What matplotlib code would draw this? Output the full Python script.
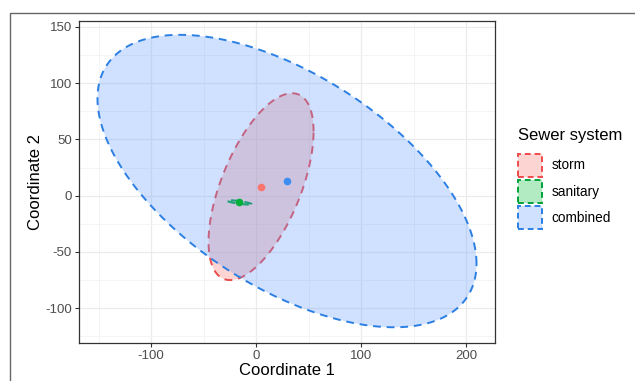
import numpy as np
import matplotlib.pyplot as plt
from matplotlib.patches import Polygon, Patch, Rectangle

plt.rcParams['font.family'] = ['Liberation Sans', 'DejaVu Sans']
plt.rcParams['axes.unicode_minus'] = False

# groups and ellipse parameters (centre + covariance-like spread)
groups = ['storm', 'sanitary', 'combined']
cx = [4.8, -16, 29.5]
cy = [8.0, -6.0, 13.0]
sxx = [2500, 144, 32580]
syy = [6900, 4, 16900]
sxy = [2450, -19, -13260]
fills = ['#F8766D', '#00BA38', '#619CFF']
edges = ['#EE4B4B', '#00A33A', '#2B7FE3']
dots = ['#F8766D', '#00B03A', '#3D8EF0']

xticks = [-100, 0, 100, 200]
yticks = [-100, -50, 0, 50, 100, 150]

fig = plt.figure(figsize=(6.35, 3.81), dpi=100)
ax = fig.add_axes([0.1244, 0.0997, 0.6551, 0.8452])

t = np.linspace(0, 2 * np.pi, 300)
for i, g in enumerate(groups):
    S = np.array([[sxx[i], sxy[i]], [sxy[i], syy[i]]])
    L = np.linalg.cholesky(S)
    pts = (L @ np.vstack([np.cos(t), np.sin(t)])).T + [cx[i], cy[i]]
    ax.add_patch(Polygon(pts, closed=True, facecolor=fills[i], alpha=0.3,
                         edgecolor='none', zorder=2 + i))
    ax.add_patch(Polygon(pts, closed=True, facecolor='none', edgecolor=edges[i],
                         lw=1.4, ls=(0, (4, 3)), zorder=2 + i))

for i, g in enumerate(groups):
    ax.plot(cx[i], cy[i], 'o', color=dots[i], ms=5.5, mec='none', zorder=10)

ax.set_xlim(-168.6, 227.6)
ax.set_ylim(-131, 155.3)
ax.set_xticks(xticks)
ax.set_yticks(yticks)
ax.set_xticks([-150, -50, 50, 150], minor=True)
ax.set_yticks([-125, -75, -25, 25, 75, 125], minor=True)
ax.grid(True, which='major', color='#EBEBEB', lw=0.9, zorder=0)
ax.grid(True, which='minor', color='#F3F3F3', lw=0.6, zorder=0)
ax.set_axisbelow(True)
ax.tick_params(which='major', length=3, color='#333333', labelsize=9.5,
               labelcolor='#4D4D4D', pad=2)
ax.tick_params(which='minor', length=0)
for s in ax.spines.values():
    s.set_color('#333333')
    s.set_linewidth(0.9)
ax.set_xlabel('Coordinate 1', fontsize=12, labelpad=1)
ax.set_ylabel('Coordinate 2', fontsize=12, labelpad=2)

handles = [Patch(facecolor=(*plt.matplotlib.colors.to_rgb(fills[i]), 0.3),
                 edgecolor=edges[i], ls=(0, (3, 2)), lw=1.4) for i in range(3)]
leg = fig.legend(handles, groups, title='Sewer system', loc='upper left',
                 bbox_to_anchor=(0.811, 0.672), frameon=False, fontsize=9.8,
                 title_fontsize=12, handlelength=1.8, handleheight=2.2,
                 labelspacing=0.25, handletextpad=0.7, borderaxespad=0,
                 borderpad=0.2)
leg._legend_box.align = 'left'
leg._legend_box.sep = 8

# outer frame of the original figure
fig.patches.append(Rectangle((10 / 635, -0.1), 1.2, 1 - 13 / 381 + 0.1,
                             transform=fig.transFigure, fill=False,
                             edgecolor='#666666', lw=1.0))

fig.savefig('out.png', dpi=100)
